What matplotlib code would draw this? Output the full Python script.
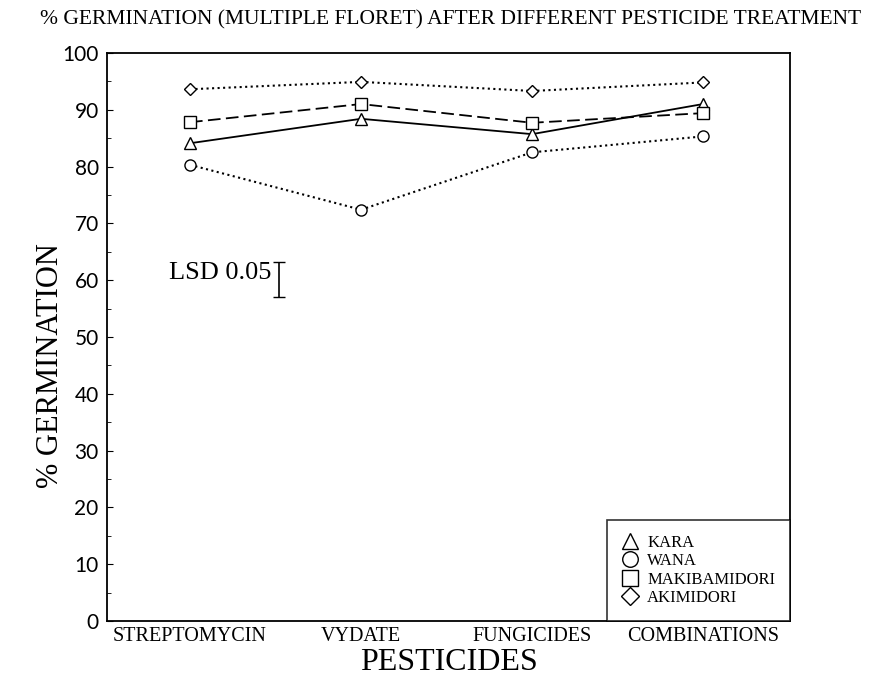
import numpy as np
import matplotlib.pyplot as plt
from matplotlib.ticker import MultipleLocator

# data
pesticides = ['STREPTOMYCIN', 'VYDATE', 'FUNGICIDES', 'COMBINATIONS']
kara = [84.1, 88.4, 85.7, 91.0]
wana = [80.3, 72.4, 82.5, 85.3]
makibamidori = [87.8, 91.0, 87.7, 89.4]
akimidori = [93.6, 94.9, 93.3, 94.8]
lsd = 6.3

plt.rcParams['font.family'] = ['Liberation Serif', 'DejaVu Serif']

fig = plt.figure(figsize=(8.92, 6.87), dpi=100)
ax = fig.add_axes([0.120, 0.096, 0.766, 0.827])

x = np.arange(len(pesticides))
mk = dict(color='black', markerfacecolor='white', markeredgecolor='black',
          markersize=8, markeredgewidth=1.0)
ax.plot(x, kara, '-', marker='^', lw=1.3, label='KARA', **mk)
ax.plot(x, wana, ':', marker='o', lw=1.5, label='WANA', **mk)
ax.plot(x, makibamidori, '--', marker='s', lw=1.3, dashes=(7, 3), label='MAKIBAMIDORI', **mk)
ax.plot(x, akimidori, ':', marker='D', lw=1.5, label='AKIMIDORI',
        **{**mk, 'markersize': 6.5})

# LSD bar
ax.errorbar([0.52], [60.1], yerr=lsd / 2, color='black', capsize=4, lw=1.2)
ax.text(0.475, 61.3, 'LSD 0.05', ha='right', va='center', fontsize=19)

ax.set_xlim(-0.485, 3.51)
ax.set_ylim(0, 100)
ax.set_xticks(x)
ax.set_xticklabels(pesticides, fontsize=14.5)
ax.tick_params(axis='x', length=0, pad=4)
ax.yaxis.set_major_locator(MultipleLocator(10))
ax.yaxis.set_minor_locator(MultipleLocator(5))
ax.tick_params(axis='y', which='major', direction='in', length=4, labelsize=15, pad=6)
ax.tick_params(axis='y', which='minor', direction='in', length=3)
for lbl in ax.get_yticklabels():
    lbl.set_family(['Lato', 'DejaVu Sans'])
for s in ax.spines.values():
    s.set_linewidth(1.3)

ax.set_xlabel('PESTICIDES', fontsize=23, labelpad=2)
ax.set_ylabel('% GERMINATION', fontsize=22)
ax.yaxis.set_label_coords(-0.062, 0.45)
fig.suptitle('% GERMINATION (MULTIPLE FLORET) AFTER DIFFERENT PESTICIDE TREATMENT',
             fontsize=15.5, x=0.505, y=0.985)

leg = ax.legend(loc='lower right', borderaxespad=0, fontsize=12, handlelength=0.9,
                handletextpad=0.6, labelspacing=0.15, fancybox=False, frameon=True,
                borderpad=0.9, markerscale=1.4)
leg.get_frame().set_edgecolor('black')
leg.get_frame().set_linewidth(1.2)
for h in leg.legend_handles:
    h.set_linestyle('None')

fig.savefig('out.png', dpi=100)
